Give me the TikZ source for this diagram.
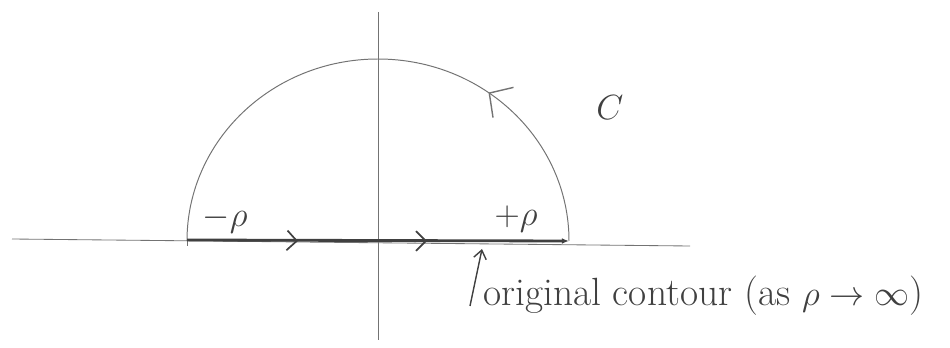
\documentclass[tikz,border=0pt]{standalone}
\usetikzlibrary{arrows.meta,decorations.markings}
\definecolor{ink}{gray}{0.25}
\definecolor{pencil}{gray}{0.45}
\begin{document}
\begin{tikzpicture}[x=0.025cm,y=-0.025cm,
  axisline/.style={draw=pencil,line width=0.6pt},
  arcline/.style={draw=pencil,line width=0.7pt},
  contourline/.style={draw=ink,line width=2pt},
  chev/.style={-{Straight Barb[length=7pt,width=14pt,line width=1.2pt]}},
  lbl/.style={text=ink,inner sep=0pt}]
\useasboundingbox (0,0) rectangle (950,348);
% axes
\coordinate (xl) at (12,239);
\coordinate (xr) at (690,246);
\coordinate (yt) at (378,12);
\coordinate (yb) at (378,340);
\draw[axisline] (xl) -- (xr);
\draw[axisline] (yt) -- (yb);
% semicircle
\coordinate (cl) at (187,240);
\coordinate (cr) at (569,241);
\draw[arcline,postaction={decorate},
  decoration={markings,mark=at position 0.30 with {\arrow{Straight Barb[length=12pt,width=26pt,line width=1pt]}}}]
  (cr) arc[start angle=0,end angle=-180,x radius=191,y radius=182];
\draw[axisline] (cl) -- ++(0,6);
% original contour
\draw[contourline,-{Latex[length=5pt,width=4pt]}] (cl) -- (cr);
\draw[ink,chev] (280,240) -- (298,241);
\draw[ink,chev] (409,241) -- (427,241);
% labels
\node[lbl,font=\fontsize{26}{26}\selectfont] (mrho) at (225,220) {$-\rho$};
\node[lbl,font=\fontsize{26}{26}\selectfont] (prho) at (516,219) {$+\rho$};
\node[lbl,font=\fontsize{50}{50}\selectfont] (C) at (610,108) {$C$};
\node[lbl,font=\fontsize{28}{28}\selectfont,anchor=base west] (orig) at (483,306) {original contour (as $\rho\to\infty$)};
\coordinate (atip) at (482,249);
\draw[ink,line width=1pt,-{Straight Barb[length=6pt,width=9pt]}] (orig.base west) ++(-13,0) coordinate (abase) -- (atip);
\end{tikzpicture}
\end{document}
